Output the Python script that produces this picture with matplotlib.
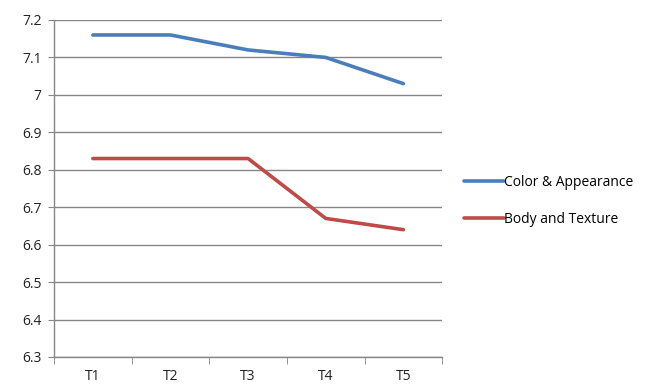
import matplotlib.pyplot as plt
import numpy as np

plt.rcParams['font.family'] = ['Open Sans', 'DejaVu Sans']

labels = ['T1', 'T2', 'T3', 'T4', 'T5']
color_appearance = [7.16, 7.16, 7.12, 7.10, 7.03]
body_texture = [6.83, 6.83, 6.83, 6.67, 6.64]

fig = plt.figure(figsize=(6.67, 3.89), dpi=100)
ax = fig.add_axes([0.081, 0.0823, 0.582, 0.8663])

x = np.arange(1, len(labels) + 1)
ax.plot(x, color_appearance, color='#4A7EBB', lw=2.6, label='Color & Appearance',
        solid_capstyle='round', zorder=3)
ax.plot(x, body_texture, color='#BE4B48', lw=2.6, label='Body and Texture',
        solid_capstyle='round', zorder=3)

ax.set_xlim(0.5, len(labels) + 0.5)
ax.set_ylim(6.3, 7.2)
yt = np.round(np.arange(6.3, 7.21, 0.1), 1)
ax.set_yticks(yt)
ax.set_yticklabels(['7' if v == 7 else f'{v:.1f}' for v in yt])
ax.yaxis.grid(True, color='#868686', lw=1.0)
ax.set_axisbelow(True)

ax.set_xticks(x)
ax.set_xticklabels(labels)
ax.set_xticks(np.arange(0.5, len(labels) + 1), minor=True)
ax.tick_params(axis='x', which='major', length=0, pad=9)
ax.tick_params(axis='x', which='minor', length=5, color='#868686')
ax.tick_params(axis='y', length=4, color='#868686', pad=5)
ax.tick_params(labelsize=10, labelcolor='#222222')

for side in ['top', 'right']:
    ax.spines[side].set_visible(False)
for side in ['left', 'bottom']:
    ax.spines[side].set_color('#868686')
    ax.spines[side].set_linewidth(1.0)

ax.legend(loc='center left', bbox_to_anchor=(1.055, 0.463), frameon=False,
          fontsize=10, handlelength=2.9, handletextpad=0.0, labelspacing=1.55,
          borderpad=0, borderaxespad=0)

fig.savefig('out.png', dpi=100)
